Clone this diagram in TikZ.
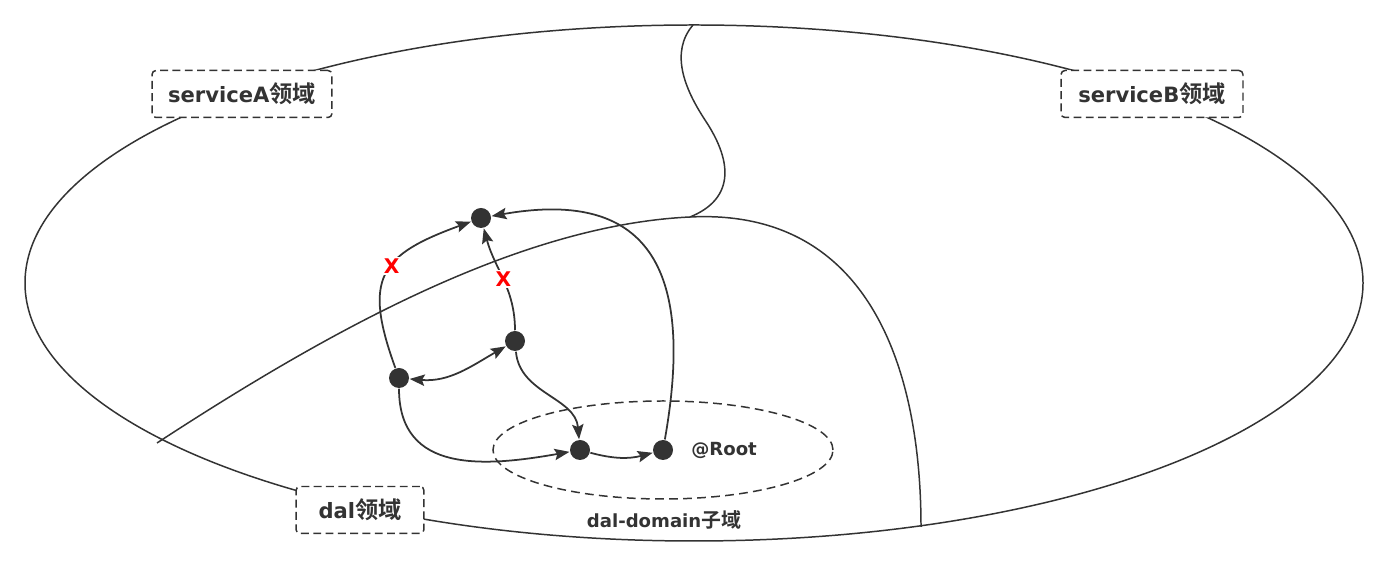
\documentclass[tikz,border=0pt]{standalone}
\usepackage{fontspec}
\setmainfont{DejaVu Sans}
\newfontfamily\cjkfont{Noto Sans CJK SC}[Scale=1.1,BoldFont={Noto Sans CJK SC Bold}]
\usetikzlibrary{arrows,arrows.meta,positioning}
\definecolor{ink}{HTML}{333333}
\newcommand{\Zh}[1]{{\cjkfont #1}}
\tikzset{dot/.style={circle,fill=ink,inner sep=0pt,minimum size=0.4cm}}
\tikzset{areabox/.style={draw=ink,dash pattern=on 4.5pt off 2.5pt,rounded corners=0.08cm,fill=white,text=ink,font=\bfseries\fontsize{12}{14}\selectfont,minimum height=0.94cm,inner sep=0pt}}
\tikzset{cut/.style={fill=white,text=red,font=\bfseries\fontsize{11.5}{13}\selectfont,inner sep=1pt}}
\tikzset{small/.style={text=ink,font=\bfseries\fontsize{10.3}{12}\selectfont}}

\begin{document}
\begin{tikzpicture}[x=0.02cm,y=0.02cm,line width=0.85pt,color=ink,>={Stealth[length=8.5pt,width=6.5pt,inset=1.5pt]}]
\useasboundingbox (0,0) rectangle (1389,567);
%
{
\draw (694,284) ellipse [x radius=669,y radius=258];
\coordinate (topcut) at (693,542);
\coordinate (midcut) at (690,350);
\coordinate (leftcut) at (157,124);
\coordinate (botcut) at (921,40);
\draw (leftcut) .. controls (330,237) and (520,342) .. (midcut) .. controls (870,359) and (921,197) .. (botcut);
\draw (topcut) .. controls (670,515) and (684,479) .. (705,447) .. controls (735,402) and (732,367) .. (midcut);
}
%
{
\node (svcA) [areabox,minimum width=3.6cm] at (242,473) {serviceA\Zh{领域}};
\node (svcB) [areabox,minimum width=3.64cm] at (1152,473) {serviceB\Zh{领域}};
\node (dal) [areabox,minimum width=2.56cm] at (360,57) {dal\Zh{领域}};
}
%
{
\draw[dash pattern=on 5pt off 3pt] (663,117) ellipse [x radius=170,y radius=49];
\node (sublbl) [small] at (664,47) {dal-domain\Zh{子域}};
}
%
{
\node (a1) [dot] at (481,349) {};
\node (a2) [dot] at (515,226) {};
\node (a3) [dot] at (399,189) {};
\node (b1) [dot] at (580,117) {};
\node (b2) [dot] at (663,117) {};
\node (rootlbl) [small,right=0.22cm of b2] {@Root};
}
%
{
\path[->,line width=1pt] (a3) edge[out=110,in=200,looseness=1.5] node[cut,pos=0.56] {X} (a1);
\path[->,line width=1pt] (a2) edge[out=90,in=-75] node[cut] {X} (a1);
\path[<->,line width=1pt] (a2) edge[out=210,in=-5] (a3);
\path[->,line width=1pt] (a2) edge[out=-85,in=95] (b1);
\path[->,line width=1pt] (a3) edge[out=-90,in=190,looseness=1.2] (b1);
\path[->,line width=1pt] (b1) edge[out=-15,in=195] (b2);
\path[->,line width=1pt] (b2) edge[out=80,in=10,looseness=1.5] (a1);
}
\end{tikzpicture}
\end{document}
